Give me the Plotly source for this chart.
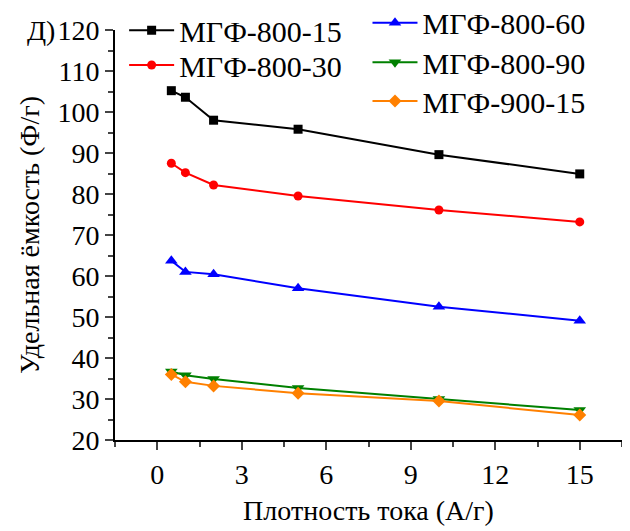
import plotly.graph_objects as go

current = [0.5, 1, 2, 5, 10, 15]

names = ['МГФ-800-15', 'МГФ-800-30', 'МГФ-800-60', 'МГФ-800-90', 'МГФ-900-15']
mgf_800_15 = [105.2, 103.6, 98.0, 95.8, 89.6, 84.9]
mgf_800_30 = [87.5, 85.2, 82.2, 79.5, 76.1, 73.2]
mgf_800_60 = [63.7, 61.0, 60.4, 57.0, 52.5, 49.1]
mgf_800_90 = [36.7, 35.8, 34.9, 32.7, 30.0, 27.3]
mgf_900_15 = [36.0, 34.2, 33.2, 31.4, 29.5, 26.1]

series = [mgf_800_15, mgf_800_30, mgf_800_60, mgf_800_90, mgf_900_15]
colors = ['#000000', '#ff0000', '#0000ff', '#008000', '#ff8000']
symbols = ['square', 'circle', 'triangle-up', 'triangle-down', 'diamond']
sizes = [9, 9, 11, 11, 10]

FONT = 'Liberation Serif, Times New Roman, serif'

# one legend per entry so the two columns can be placed like in the original
legend_ids = ['legend', 'legend2', 'legend3', 'legend4', 'legend5']
legend_pos = [(0.018, 1.063), (0.018, 0.978), (0.498, 1.081), (0.498, 0.985), (0.498, 0.890)]

fig = go.Figure()
for name, vals, c, s, sz, lg in zip(names, series, colors, symbols, sizes, legend_ids):
    fig.add_trace(go.Scatter(x=current, y=vals, mode='lines+markers', name=name,
                             line=dict(color=c, width=2),
                             marker=dict(symbol=s, size=sz, color=c),
                             legend=lg))

legend_style = dict(font=dict(family=FONT, size=30, color='black'), bgcolor='rgba(0,0,0,0)',
                    yanchor='top', xanchor='left', itemwidth=45)
# page body adds an 8px offset, so the figure is a bit smaller than the window
fig.update_layout(
    width=622, height=523,
    margin=dict(l=107, r=8, t=22, b=91, autoexpand=False),
    paper_bgcolor='white', plot_bgcolor='white',
    showlegend=True,
    font=dict(family=FONT, size=28, color='black'),
    annotations=[dict(text='Д)', x=-0.1145, y=1.0, xref='paper', yref='paper', showarrow=False,
                      xanchor='right', yanchor='middle', font=dict(family=FONT, size=28))],
)
for lg, (lx, ly) in zip(legend_ids, legend_pos):
    fig.update_layout({lg: dict(x=lx, y=ly, **legend_style)})

fig.update_xaxes(range=[-1.5, 16.5], tickvals=[0, 3, 6, 9, 12, 15], showgrid=False, zeroline=False,
                 showline=True, linecolor='black', linewidth=2, ticks='outside', ticklen=8, tickwidth=2,
                 tickfont=dict(family=FONT, size=28), automargin=False,
                 minor=dict(ticks='outside', ticklen=5, tickwidth=1.5, dtick=1.5, tick0=1.5),
                 title=dict(text='Плотность тока (А/г)', standoff=12, font=dict(family=FONT, size=28)))
fig.update_yaxes(range=[20, 120], dtick=10, showgrid=False, zeroline=False,
                 showline=True, linecolor='black', linewidth=2, ticks='outside', ticklen=8, tickwidth=2,
                 tickfont=dict(family=FONT, size=28), automargin=False,
                 minor=dict(ticks='outside', ticklen=5, tickwidth=1.5, dtick=5),
                 title=dict(text='Удельная ёмкость (Ф/г)', standoff=10, font=dict(family=FONT, size=28)))

fig.write_html('out.html')
